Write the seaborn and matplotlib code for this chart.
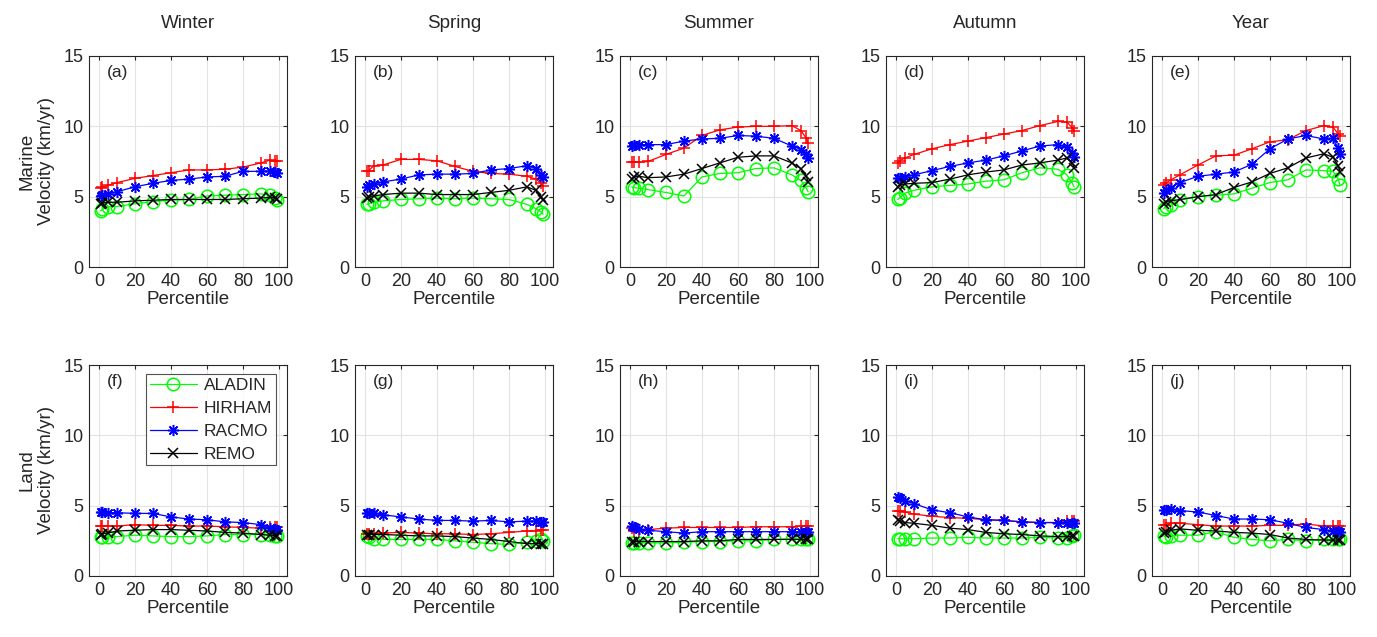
import numpy as np
import pandas as pd
import matplotlib
matplotlib.use("Agg")
import matplotlib.pyplot as plt
import seaborn as sns

# --- Datos ---
percentiles = [1, 2, 5, 10, 20, 30, 40, 50, 60, 70, 80, 90, 95, 98, 99]
seasons = ["Winter", "Spring", "Summer", "Autumn", "Year"]
models = ["ALADIN", "HIRHAM", "RACMO", "REMO"]
panel_tags = ["(a)", "(b)", "(c)", "(d)", "(e)", "(f)", "(g)", "(h)", "(i)", "(j)"]

# Marine
marine_winter_aladin = [4.0, 4.1, 4.3, 4.3, 4.5, 4.65, 4.75, 4.8, 5.05, 5.1, 5.15, 5.2, 5.1, 4.9, 4.75]
marine_winter_hirham = [5.6, 5.7, 5.8, 6.0, 6.3, 6.5, 6.7, 6.9, 6.9, 6.95, 7.1, 7.4, 7.6, 7.55, 7.5]
marine_winter_racmo = [5.05, 5.1, 5.2, 5.35, 5.7, 5.95, 6.15, 6.25, 6.4, 6.45, 6.8, 6.8, 6.83, 6.75, 6.7]
marine_winter_remo = [4.5, 4.55, 4.6, 4.6, 4.7, 4.75, 4.8, 4.8, 4.8, 4.8, 4.85, 4.9, 4.95, 4.9, 4.85]

marine_spring_aladin = [4.45, 4.5, 4.6, 4.7, 4.8, 4.85, 4.9, 4.85, 4.9, 4.85, 4.8, 4.45, 4.15, 3.9, 3.75]
marine_spring_hirham = [6.8, 6.85, 7.2, 7.25, 7.65, 7.65, 7.55, 7.15, 6.8, 6.65, 6.6, 6.45, 6.25, 5.95, 5.75]
marine_spring_racmo = [5.7, 5.8, 5.9, 6.05, 6.25, 6.55, 6.6, 6.6, 6.65, 6.9, 7.0, 7.2, 7.0, 6.55, 6.4]
marine_spring_remo = [4.9, 5.0, 5.05, 5.15, 5.25, 5.25, 5.15, 5.15, 5.15, 5.3, 5.45, 5.7, 5.45, 5.0, 4.75]

marine_summer_aladin = [5.7, 5.65, 5.6, 5.5, 5.3, 5.05, 6.4, 6.65, 6.7, 7.0, 7.05, 6.55, 6.15, 5.6, 5.35]
marine_summer_hirham = [7.45, 7.45, 7.45, 7.5, 8.0, 8.45, 9.35, 9.75, 9.95, 10.0, 10.0, 10.05, 9.7, 9.15, 8.8]
marine_summer_racmo = [8.6, 8.7, 8.7, 8.7, 8.7, 8.95, 9.1, 9.15, 9.35, 9.3, 9.15, 8.6, 8.35, 8.0, 7.75]
marine_summer_remo = [6.25, 6.4, 6.45, 6.35, 6.4, 6.6, 7.0, 7.4, 7.8, 7.9, 7.9, 7.4, 7.0, 6.45, 6.05]

marine_autumn_aladin = [4.8, 4.9, 5.25, 5.45, 5.7, 5.8, 5.9, 6.1, 6.2, 6.7, 7.05, 6.95, 6.55, 5.95, 5.7]
marine_autumn_hirham = [7.4, 7.55, 7.75, 8.0, 8.4, 8.7, 8.95, 9.2, 9.45, 9.7, 10.05, 10.35, 10.3, 9.9, 9.65]
marine_autumn_racmo = [6.3, 6.35, 6.4, 6.55, 6.85, 7.15, 7.4, 7.6, 7.9, 8.25, 8.6, 8.7, 8.5, 8.1, 7.85]
marine_autumn_remo = [5.7, 5.8, 5.9, 5.95, 6.0, 6.25, 6.55, 6.75, 6.9, 7.25, 7.4, 7.6, 7.75, 7.4, 7.05]

marine_year_aladin = [4.15, 4.3, 4.4, 4.75, 5.0, 5.1, 5.2, 5.6, 6.0, 6.2, 6.9, 6.85, 6.8, 6.25, 5.8]
marine_year_hirham = [5.8, 5.95, 6.2, 6.55, 7.25, 7.9, 7.95, 8.4, 8.9, 9.05, 9.7, 10.05, 9.95, 9.45, 9.3]
marine_year_racmo = [5.25, 5.45, 5.65, 6.0, 6.45, 6.6, 6.75, 7.3, 8.4, 9.1, 9.35, 9.1, 9.15, 8.45, 8.05]
marine_year_remo = [4.5, 4.65, 4.7, 4.8, 5.0, 5.15, 5.65, 6.05, 6.65, 7.05, 7.75, 8.05, 7.8, 7.2, 6.75]

# Land
land_winter_aladin = [2.8, 2.8, 2.8, 2.8, 2.9, 2.85, 2.8, 2.8, 2.85, 2.95, 2.95, 2.95, 2.9, 2.85, 2.85]
land_winter_hirham = [3.55, 3.55, 3.55, 3.55, 3.65, 3.6, 3.6, 3.55, 3.55, 3.5, 3.45, 3.4, 3.45, 3.45, 3.5]
land_winter_racmo = [4.55, 4.55, 4.5, 4.5, 4.45, 4.45, 4.2, 4.05, 4.0, 3.85, 3.8, 3.65, 3.4, 3.35, 3.3]
land_winter_remo = [2.95, 3.0, 3.05, 3.2, 3.25, 3.3, 3.3, 3.25, 3.2, 3.1, 3.05, 2.95, 2.9, 2.85, 2.85]

land_spring_aladin = [2.85, 2.8, 2.65, 2.6, 2.6, 2.6, 2.6, 2.5, 2.4, 2.3, 2.25, 2.4, 2.5, 2.6, 2.5]
land_spring_hirham = [3.0, 3.0, 3.0, 3.05, 3.1, 3.05, 3.0, 3.0, 2.95, 3.0, 3.1, 3.2, 3.2, 3.25, 3.25]
land_spring_racmo = [4.5, 4.5, 4.45, 4.35, 4.2, 4.05, 3.95, 3.95, 3.9, 3.95, 3.85, 3.9, 3.9, 3.85, 3.85]
land_spring_remo = [2.95, 2.95, 2.95, 2.95, 2.9, 2.85, 2.85, 2.8, 2.7, 2.6, 2.45, 2.3, 2.3, 2.3, 2.3]

land_summer_aladin = [2.35, 2.35, 2.35, 2.35, 2.35, 2.4, 2.45, 2.45, 2.5, 2.5, 2.6, 2.65, 2.65, 2.65, 2.65]
land_summer_hirham = [3.4, 3.2, 3.2, 3.3, 3.4, 3.45, 3.45, 3.45, 3.45, 3.5, 3.5, 3.5, 3.55, 3.55, 3.55]
land_summer_racmo = [3.55, 3.45, 3.35, 3.25, 3.15, 3.05, 3.15, 3.15, 3.15, 3.15, 3.15, 3.15, 3.15, 3.15, 3.15]
land_summer_remo = [2.45, 2.45, 2.45, 2.45, 2.45, 2.45, 2.5, 2.5, 2.6, 2.6, 2.6, 2.6, 2.6, 2.6, 2.65]

land_autumn_aladin = [2.65, 2.65, 2.65, 2.65, 2.7, 2.7, 2.75, 2.7, 2.7, 2.7, 2.75, 2.7, 2.7, 2.85, 2.9]
land_autumn_hirham = [4.6, 4.6, 4.55, 4.4, 4.25, 4.15, 4.1, 4.0, 3.95, 3.85, 3.8, 3.8, 3.9, 3.9, 3.9]
land_autumn_racmo = [5.6, 5.55, 5.35, 5.15, 4.7, 4.5, 4.2, 4.0, 3.95, 3.85, 3.8, 3.8, 3.8, 3.8, 3.8]
land_autumn_remo = [3.95, 3.9, 3.8, 3.75, 3.6, 3.4, 3.3, 3.1, 3.0, 2.95, 2.85, 2.8, 2.8, 2.85, 2.85]

land_year_aladin = [2.85, 2.8, 2.85, 2.9, 2.9, 3.15, 2.75, 2.6, 2.5, 2.6, 2.5, 2.6, 2.6, 2.6, 2.6]
land_year_hirham = [3.65, 3.65, 3.75, 3.75, 3.65, 3.55, 3.55, 3.55, 3.6, 3.6, 3.7, 3.55, 3.55, 3.55, 3.55]
land_year_racmo = [4.7, 4.7, 4.75, 4.65, 4.55, 4.3, 4.05, 4.05, 4.0, 3.75, 3.45, 3.3, 3.2, 3.2, 3.15]
land_year_remo = [3.05, 3.15, 3.25, 3.35, 3.25, 3.2, 3.1, 3.05, 2.95, 2.7, 2.6, 2.55, 2.55, 2.55, 2.55]

marine = [
    [marine_winter_aladin, marine_winter_hirham, marine_winter_racmo, marine_winter_remo],
    [marine_spring_aladin, marine_spring_hirham, marine_spring_racmo, marine_spring_remo],
    [marine_summer_aladin, marine_summer_hirham, marine_summer_racmo, marine_summer_remo],
    [marine_autumn_aladin, marine_autumn_hirham, marine_autumn_racmo, marine_autumn_remo],
    [marine_year_aladin, marine_year_hirham, marine_year_racmo, marine_year_remo],
]
land = [
    [land_winter_aladin, land_winter_hirham, land_winter_racmo, land_winter_remo],
    [land_spring_aladin, land_spring_hirham, land_spring_racmo, land_spring_remo],
    [land_summer_aladin, land_summer_hirham, land_summer_racmo, land_summer_remo],
    [land_autumn_aladin, land_autumn_hirham, land_autumn_racmo, land_autumn_remo],
    [land_year_aladin, land_year_hirham, land_year_racmo, land_year_remo],
]

# tabla larga para seaborn
rows = []
for region, block in [("Marine", marine), ("Land", land)]:
    for s, season in enumerate(seasons):
        for m, model in enumerate(models):
            for p, v in zip(percentiles, block[s][m]):
                rows.append((region, season, model, p, v))
df = pd.DataFrame(rows, columns=["region", "season", "model", "percentile", "velocity"])

sns.set_style("white")
plt.rcParams["font.family"] = ["Liberation Sans", "DejaVu Sans"]

colors = {"ALADIN": "#00ff00", "HIRHAM": "#ff0000", "RACMO": "#0000ff", "REMO": "#000000"}
# asterisco tipo Matlab (8 brazos) para RACMO
markers = {"ALADIN": "o", "HIRHAM": "+", "RACMO": (8, 2, 0), "REMO": "x"}
msizes = {"ALADIN": 9, "HIRHAM": 8.5, "RACMO": 8, "REMO": 6.5}

fig = plt.figure(figsize=(13.77, 6.37), dpi=100)
W, H = 1377, 637
lefts = [89, 355, 620, 886, 1152]
tops = [56, 365]
aw, ah = 198, 211

for r, region in enumerate(["Marine", "Land"]):
    for c, season in enumerate(seasons):
        ax = fig.add_axes([lefts[c] / W, 1 - (tops[r] + ah) / H, aw / W, ah / H])
        sub = df[(df.region == region) & (df.season == season)]
        for model in models:
            d = sub[sub.model == model]
            sns.lineplot(data=d, x="percentile", y="velocity", ax=ax, color=colors[model],
                         marker=markers[model], markersize=msizes[model], linewidth=0.9,
                         markerfacecolor="none" if model == "ALADIN" else colors[model],
                         markeredgecolor=colors[model], markeredgewidth=1.1,
                         label=model, legend=False)
        ax.set_xlim(-5.5, 104.5)
        ax.set_ylim(0, 15)
        ax.set_xticks([0, 20, 40, 60, 80, 100])
        ax.set_yticks([0, 5, 10, 15])
        ax.grid(True, color="#e3e3e3", linewidth=0.8)
        ax.tick_params(direction="in", top=True, right=True, labelsize=13, length=3, pad=4,
                       colors="#262626")
        for sp in ax.spines.values():
            sp.set_color("#262626")
            sp.set_linewidth(0.8)
        ax.set_xlabel("Percentile", fontsize=13.5, labelpad=1)
        if c == 0:
            ax.set_ylabel(region + "\nVelocity (km/yr)", fontsize=13.5, labelpad=6)
        else:
            ax.set_ylabel("")
        if r == 0:
            ax.set_title(season, fontsize=13.5, pad=20)
        ax.text(0.09, 0.92, panel_tags[r * 5 + c], transform=ax.transAxes,
                fontsize=12.5, ha="left", va="center")
        if r == 1 and c == 0:
            leg = ax.legend(loc="upper left", bbox_to_anchor=(0.29, 0.955), fontsize=12.5,
                            frameon=True, fancybox=False, handlelength=2.7,
                            borderpad=0.2, labelspacing=0.45, handletextpad=0.4,
                            borderaxespad=0)
            leg.get_frame().set_edgecolor("#262626")
            leg.get_frame().set_linewidth(0.8)

fig.savefig("out.png", dpi=100)
